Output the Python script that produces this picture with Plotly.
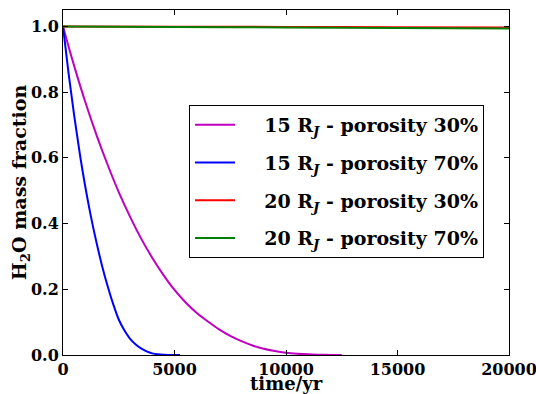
import plotly.graph_objects as go

# Data
t_blue = [0, 250, 500, 750, 1000, 1250, 1500, 1750, 2000, 2250, 2500, 2750, 3000,
          3250, 3500, 3750, 4000, 4250, 4500, 4750, 5000, 5250]
f_blue = [1.0, 0.857, 0.729, 0.614, 0.512, 0.422, 0.343, 0.272, 0.210, 0.155, 0.108,
          0.075, 0.050, 0.033, 0.020, 0.011, 0.005, 0.002, 0.0006, 0.0001, 0.0, 0.0]

t_mag = [0, 500, 1000, 1500, 2000, 2500, 3000, 3500, 4000, 4500, 5000, 5500, 6000,
         6500, 7000, 7500, 8000, 8500, 9000, 9500, 10000, 10500, 11000, 11500, 12000, 12500]
f_mag = [1.0, 0.880, 0.770, 0.670, 0.579, 0.496, 0.422, 0.355, 0.296, 0.244, 0.198,
         0.160, 0.128, 0.102, 0.078, 0.058, 0.042, 0.029, 0.019, 0.012, 0.007, 0.004,
         0.002, 0.001, 0.0003, 0.0]

t_far = [0, 5000, 10000, 15000, 20000]
f_red = [1.0, 0.9993, 0.9985, 0.9978, 0.997]
f_green = [1.0, 0.9985, 0.997, 0.9955, 0.994]

labels = ["15 R<sub><i>J</i></sub> - porosity 30%",
          "15 R<sub><i>J</i></sub> - porosity 70%",
          "20 R<sub><i>J</i></sub> - porosity 30%",
          "20 R<sub><i>J</i></sub> - porosity 70%"]
colors = ["#bf00bf", "#0000ff", "#ff0000", "#008000"]

x_ticks = [0, 5000, 10000, 15000, 20000]
y_ticks = [0.0, 0.2, 0.4, 0.6, 0.8, 1.0]

series = [(t_mag, f_mag), (t_blue, f_blue), (t_far, f_red), (t_far, f_green)]

FONT = "DejaVu Serif"

fig = go.Figure()
for i, ((x, y), lab, c) in enumerate(zip(series, labels, colors)):
    fig.add_trace(go.Scatter(x=x, y=y, mode="lines",
                             name="&nbsp;&nbsp;&nbsp;&nbsp;<b>" + lab + "</b>",
                             line=dict(color=c, width=2), legendgroup=f"g{i}",
                             line_shape="spline"))

axis_common = dict(showline=True, linecolor="black", linewidth=1, mirror="ticks",
                   ticks="inside", ticklen=5, tickcolor="black", showgrid=False,
                   zeroline=False, automargin=False, ticklabeloverflow="allow",
                   tickfont=dict(family=FONT, size=16, color="black"))

fig.update_layout(
    width=536, height=394,
    margin=dict(l=63, r=27, t=10, b=39),
    paper_bgcolor="white", plot_bgcolor="white",
    font=dict(family=FONT, color="black"),
    xaxis=dict(range=[0, 20000], tickvals=x_ticks,
               ticktext=[f"<b>{v}</b>" for v in x_ticks],
               **axis_common),
    yaxis=dict(range=[0, 1.05], tickvals=y_ticks,
               ticktext=[f"<b>{v:.1f}</b>" for v in y_ticks],
               **axis_common),
    legend=dict(x=0.944, y=0.7246, xanchor="right", yanchor="top",
                bordercolor="black", borderwidth=1, bgcolor="white",
                font=dict(family=FONT, size=19, color="black"),
                tracegroupgap=10, itemwidth=40),
    showlegend=True,
    annotations=[
        dict(text="<b>time/yr</b>", xref="paper", yref="paper", x=0.5, y=-0.084,
             xanchor="center", yanchor="middle", showarrow=False,
             font=dict(family=FONT, size=18, color="black")),
        dict(text="<b>H<sub>2</sub>O mass fraction</b>", xref="paper", yref="paper",
             x=-0.095, y=0.5, xanchor="center", yanchor="middle", textangle=-90,
             showarrow=False, font=dict(family=FONT, size=19, color="black")),
    ],
)

fig.write_html("out.html", post_script="document.body.style.margin='0px';",
               config={"displayModeBar": False})
